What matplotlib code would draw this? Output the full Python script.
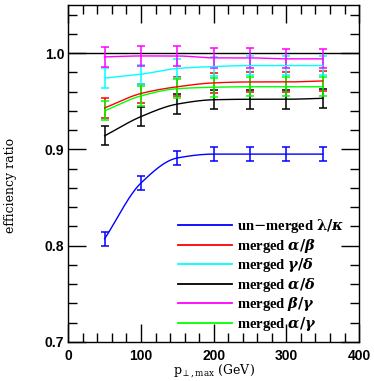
import numpy as np
import matplotlib
matplotlib.use("Agg")
import matplotlib.pyplot as plt
from matplotlib.lines import Line2D

# ---- data ----
pt_max = [50, 100, 150, 200, 250, 300, 350]

unmerged_lk = [0.807, 0.865, 0.891, 0.895, 0.895, 0.895, 0.895]
unmerged_lk_err = [0.007, 0.007, 0.007, 0.007, 0.007, 0.007, 0.007]

merged_ab = [0.943, 0.958, 0.965, 0.969, 0.970, 0.970, 0.971]
merged_gd = [0.974, 0.978, 0.984, 0.986, 0.987, 0.987, 0.987]
merged_ad = [0.914, 0.934, 0.947, 0.9515, 0.952, 0.952, 0.953]
merged_bg = [0.996, 0.997, 0.997, 0.995, 0.995, 0.994, 0.994]
merged_ag = [0.940, 0.9555, 0.963, 0.9645, 0.965, 0.965, 0.965]
merged_err = [0.010, 0.010, 0.010, 0.010, 0.010, 0.010, 0.010]

labels = [r'un$-$merged $\boldsymbol{\lambda/\kappa}$',
          r'merged $\boldsymbol{\alpha/\beta}$',
          r'merged $\boldsymbol{\gamma/\delta}$',
          r'merged $\boldsymbol{\alpha/\delta}$',
          r'merged $\boldsymbol{\beta/\gamma}$',
          r'merged $\boldsymbol{\alpha/\gamma}$']
colors = ['#0000ff', '#ff0000', '#00ffff', '#000000', '#ff00ff', '#00ff00']

series = [unmerged_lk, merged_ab, merged_gd, merged_ad, merged_bg, merged_ag]
errors = [unmerged_lk_err, merged_err, merged_err, merged_err, merged_err, merged_err]


def smooth_curve(x, y, n=200):
    """Monotone cubic (Fritsch-Carlson) rendering of the line through the points."""
    x = np.asarray(x, float)
    y = np.asarray(y, float)
    h = np.diff(x)
    d = np.diff(y) / h
    m = np.zeros_like(y)
    m[0] = d[0]
    m[-1] = d[-1]
    for i in range(1, len(x) - 1):
        if d[i - 1] * d[i] <= 0:
            m[i] = 0.0
        else:
            w1 = 2 * h[i] + h[i - 1]
            w2 = h[i] + 2 * h[i - 1]
            m[i] = (w1 + w2) / (w1 / d[i - 1] + w2 / d[i])
    xs = np.linspace(x[0], x[-1], n)
    idx = np.clip(np.searchsorted(x, xs) - 1, 0, len(x) - 2)
    t = (xs - x[idx]) / h[idx]
    h00 = 2 * t**3 - 3 * t**2 + 1
    h10 = t**3 - 2 * t**2 + t
    h01 = -2 * t**3 + 3 * t**2
    h11 = t**3 - t**2
    ys = h00 * y[idx] + h10 * h[idx] * m[idx] + h01 * y[idx + 1] + h11 * h[idx] * m[idx + 1]
    return xs, ys


plt.rcParams['mathtext.fontset'] = 'dejavuserif'

fig = plt.figure(figsize=(3.74, 3.81), dpi=100)
ax = fig.add_axes([0.1826, 0.103, 0.7775, 0.884])

ax.axhline(1.0, color='black', lw=1.0, zorder=1)

for y, e, c in zip(series, errors, colors):
    ax.errorbar(pt_max, y, yerr=e, fmt='none', ecolor=c, elinewidth=1.1,
                capsize=3.2, capthick=1.1, zorder=2)
    xs, ys = smooth_curve(pt_max, y)
    ax.plot(xs, ys, color=c, lw=1.0, zorder=3)

ax.set_xlim(0, 400)
ax.set_ylim(0.7, 1.05)
ax.set_xticks([0, 100, 200, 300, 400])
ax.set_xticks(np.arange(0, 401, 20), minor=True)
ax.set_yticks([0.7, 0.8, 0.9, 1.0])
ax.set_yticks(np.arange(0.70, 1.051, 0.02), minor=True)
ax.set_yticklabels(['0.7', '0.8', '0.9', '1.0'])

ax.tick_params(which='both', direction='in', top=True, right=True, width=1.0)
ax.tick_params(which='major', length=13)
ax.tick_params(axis='y', which='major', pad=3)
ax.tick_params(axis='x', which='major', pad=5)
ax.tick_params(which='minor', length=6.5)
for lab in ax.get_xticklabels() + ax.get_yticklabels():
    lab.set_fontfamily('Liberation Sans')
    lab.set_fontweight('bold')
    lab.set_fontsize(10)
for s in ax.spines.values():
    s.set_linewidth(1.0)

ax.set_ylabel('efficiency ratio', family='DejaVu Serif', fontsize=9)
ax.yaxis.set_label_coords(-0.175, 0.464)
ax.set_xlabel(r'p$_{\perp\mathrm{,max}}$ (GeV)', family='DejaVu Serif', fontsize=9, labelpad=0)
ax.xaxis.set_label_coords(0.5, -0.062)

handles = [Line2D([], [], color=c, lw=1.3) for c in colors]
leg = ax.legend(handles, labels, loc='lower right', bbox_to_anchor=(0.995, -0.012),
                frameon=False, handlelength=3.7, handletextpad=0.35, labelspacing=0.1,
                prop={'family': 'Liberation Serif', 'weight': 'bold', 'size': 10.5})

fig.savefig('out.png', dpi=100)
